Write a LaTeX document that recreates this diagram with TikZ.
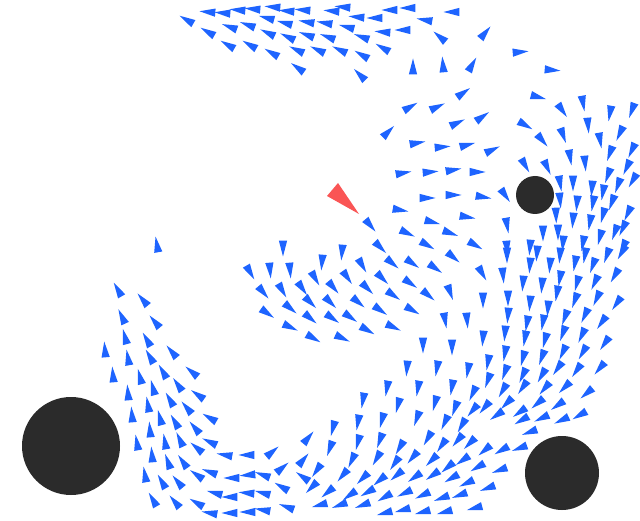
\documentclass[tikz,border=0pt]{standalone}
\definecolor{boidblue}{RGB}{30,100,255}
\definecolor{obst}{RGB}{43,43,43}
\definecolor{leader}{RGB}{250,85,85}
\newcommand\bd[3]{\fill[boidblue] (#1,#2) +({#3}:8.5) -- +({#3+150.5}:8.4) -- +({#3-150.5}:8.4) -- cycle;}
\begin{document}
\begin{tikzpicture}[x=1pt,y=-1pt]
\fill[white] (0,0) rectangle (640,521);
\useasboundingbox (0,0) rectangle (640,521);
% obstacles
\fill[obst] (71,446) circle[radius=49pt];
\fill[obst] (562,473) circle[radius=37pt];
\fill[obst] (535,195) circle[radius=19pt];
% top flock
\foreach \x/\y/\h in {208/12/185,223/13/185,238/10/185,253/9/185,273/7/185,287/11/185,303/10/185,332/11/185,343/7/185,
187/20/210,230/27/200,248/25/200,267/18/195,285/23/195,307/22/190,325/23/190,357/17/185,
208/32/210,268/33/205,288/37/205,307/35/200,328/37/200,347/27/195,362/37/200,
228/45/210,250/45/210,272/53/210,297/50/205,318/50/205,340/50/205,362/55/210,
298/68/215,360/75/225}{\bd{\x}{\y}{\h}}
% upper right
\foreach \x/\y/\h in {375/18/180,390/10/180,408/8/180,425/20/190,452/12/180,383/32/185,403/30/180,383/48/210,440/37/220,
485/33/-50,413/67/-90,443/65/-95,472/65/-60,520/52/-5,552/70/5,
463/93/-35,538/97/15,583/103/80,562/110/55,610/113/100,632/110/110,
410/107/-30,437/107/-25,388/132/-45,457/123/-25,482/117/-35,525/125/30,588/125/85,
417/143/-10,442/147/-5,467/145/-15,492/150/-25,542/140/50,563/135/70,600/140/80,620/133/115,632/150/115,
525/165/60,547/167/65,570/157/80,585/163/85,610/153/110,627/167/115,
403/173/-10,430/172/-5,453/170/-10,477/172/0}{\bd{\x}{\y}{\h}}
% around small obstacle
\foreach \x/\y/\h in {427/198/0,453/195/0,400/210/10,467/217/10,
483/197/10,505/195/55,475/245/30,507/225/80,507/248/85,
560/183/80,560/200/85,556/215/88,543/233/90,563/243/95,530/247/95,
608/175/110,573/183/90,592/188/95,603/192/100,618/185/110,633/180/120,
577/203/95,593/203/100,612/202/110,628/213/115,
573/220/95,590/222/100,603/215/105,623/228/115,558/232/90,583/243/100,600/237/105,615/232/110,623/247/115}{\bd{\x}{\y}{\h}}
% right stream
\foreach \x/\y/\h in {507/255/90,537/253/95,560/255/95,585/255/100,607/255/110,622/252/120,
482/273/60,503/275/85,530/265/95,550/265/95,575/263/100,593/265/110,615/275/120,
523/283/95,542/285/95,560/278/100,577/283/105,595/282/115,
483/300/90,508/298/90,530/303/95,548/308/95,557/293/100,575/300/110,597/298/115,617/303/125,
508/315/95,527/323/100,543/322/100,565/317/110,585/315/115,602/322/125,
483/338/95,505/333/95,525/338/100,545/340/105,563/333/110,582/335/115,605/343/125,
488/362/100,505/353/100,523/358/105,542/357/110,563/352/115,583/352/120,
505/372/110,523/375/115,542/375/120,558/368/125,577/370/125,600/368/130,
488/380/110,503/390/120,523/387/125,545/388/130,565/387/135,587/393/140,
473/393/115,485/407/130,507/403/135,520/412/145,538/403/140,558/405/145,580/415/150,
473/410/130,497/415/145,522/420/150,542/418/155,562/420/155}{\bd{\x}{\y}{\h}}
% lower band
\foreach \x/\y/\h in {407/368/95,437/368/100,468/370/100,387/388/100,418/388/100,452/387/100,
363/400/100,398/405/105,435/403/105,455/408/110,358/422/100,382/420/105,417/418/110,445/422/115,462/425/120,
333/428/105,358/442/105,380/440/110,400/447/120,428/438/120,442/445/125,458/440/130,470/443/135,485/450/140,502/450/150,520/448/160,530/432/160,
330/448/110,352/460/115,377/458/120,395/463/125,413/457/130,432/460/135,448/467/140,463/460/145,478/467/150,500/470/160,
317/470/125,343/475/130,363/478/135,380/480/140,397/475/140,415/477/145,433/475/145,452/478/150,467/483/155,488/488/160,
312/487/135,328/492/140,350/495/145,368/492/150,385/497/150,405/493/155,423/495/155,442/498/160,460/495/160,
320/505/165,340/505/160,363/505/160,385/513/165,403/510/165,423/512/165,445/512/165,475/508/165}{\bd{\x}{\y}{\h}}
% middle cluster
\foreach \x/\y/\h in {370/225/50,432/222/15,407/233/25,450/233/20,427/245/30,380/247/45,342/252/95,322/262/95,362/265/60,392/263/40,412/263/35,435/268/35,453/257/40,
315/278/60,347/277/55,382/278/45,410/283/35,302/288/55,333/287/50,367/288/45,428/295/40,450/292/70,
310/302/45,330/302/45,358/302/40,393/295/35,380/310/35,412/310/30,310/318/40,332/318/35,350/317/35,445/320/80,467/320/85,
367/330/30,393/327/25,313/338/30,342/338/25,423/345/90,452/347/90,
283/248/90,250/272/60,270/270/85,290/270/85,263/292/50,282/290/60,290/308/40,267/313/35,290/327/25}{\bd{\x}{\y}{\h}}
% left stream
\foreach \x/\y/\h in {157/245/-100,118/290/-120,143/300/-130,122/317/-115,155/322/-130,125/337/-105,147/340/-120,105/350/-95,128/358/-100,150/357/-120,172/352/-130,
113/375/-95,140/377/-105,163/372/-120,192/372/-140,
128/393/-95,153/388/-105,178/385/-125,198/395/-145,
170/400/-120,132/415/-95,148/405/-100,160/418/-105,175/422/-120,187/408/-130,210/418/-150,
137/443/-100,150/430/-95,165/442/-100,180/440/-115,195/428/-130,210/442/-155,
152/455/-95,168/462/-110,183/462/-125,197/448/-140,225/455/-170,247/455/180,272/452/-40,308/438/-50,
145/475/-100,162/482/-120,178/482/-130,197/475/-145,210/472/-160,232/478/180,248/475/175,263/475/-160,282/468/-40,303/460/-50,
153/500/-120,175/502/-130,197/503/-150,215/493/-165,230/497/180,247/493/185,263/493/-165,282/487/-150,303/477/-145,
210/513/-170,230/513/180,248/512/180,263/510/-170,287/507/-160}{\bd{\x}{\y}{\h}}
% leader
\fill[leader] (338,183) -- (327,196) -- (359,214) -- cycle;
\end{tikzpicture}
\end{document}
